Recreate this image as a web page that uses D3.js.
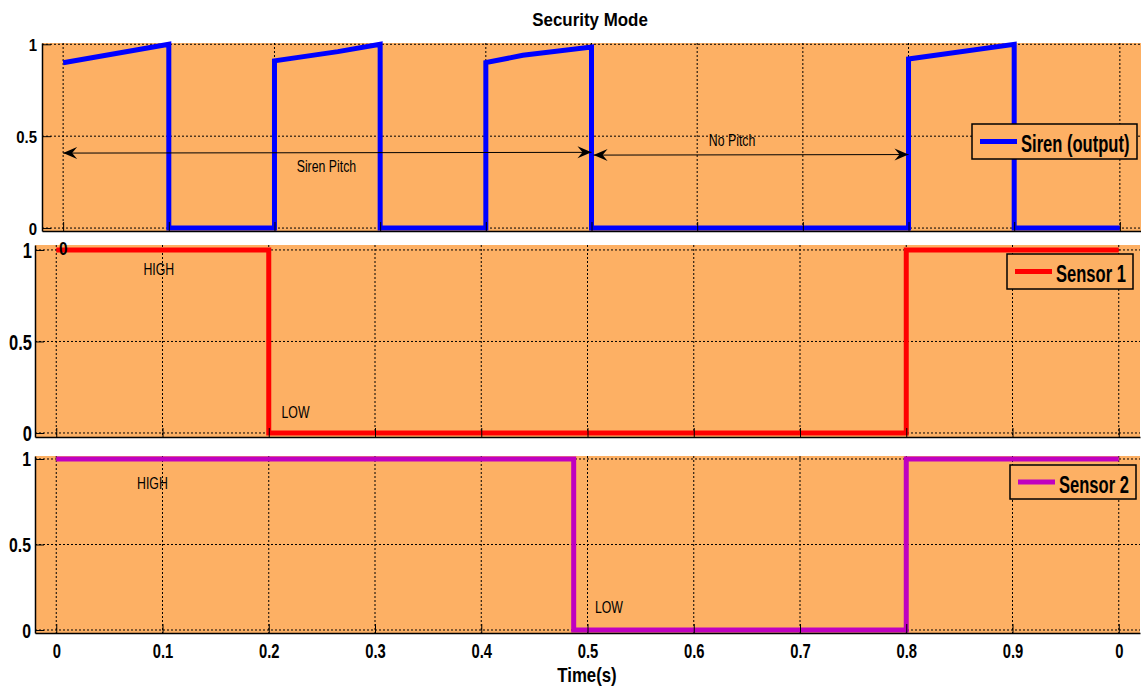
<!DOCTYPE html>
<html>
<head>
<meta charset="utf-8">
<script src="https://cdn.jsdelivr.net/npm/d3@7"></script>
<style>
  body { margin: 0; background: #fff; }
  svg { display: block; font-family: "Liberation Sans", Arial, sans-serif; }
</style>
</head>
<body>
<svg id="chart" width="1141" height="689"></svg>
<script>
// ---- data ----
const timeTicks = [0, 0.1, 0.2, 0.3, 0.4, 0.5, 0.6, 0.7, 0.8, 0.9, 1.0];
const timeTickLabels = ['0', '0.1', '0.2', '0.3', '0.4', '0.5', '0.6', '0.7', '0.8', '0.9', '0'];
const levelTicks = [0, 0.5, 1];
const levelTickLabels = ['0', '0.5', '1'];

const sirenTime  = [0, 0.1, 0.1, 0.2, 0.2, 0.26, 0.3, 0.3, 0.4, 0.4, 0.435, 0.5, 0.5, 0.8, 0.8, 0.9, 0.9, 1.0];
const sirenLevel = [0.9, 1.0, 0, 0, 0.91, 0.96, 1.0, 0, 0, 0.9, 0.94, 0.985, 0, 0, 0.92, 1.0, 0, 0];

const sensor1Time  = [0, 0.2, 0.2, 0.8, 0.8, 1.0];
const sensor1Level = [1, 1, 0, 0, 1, 1];

const sensor2Time  = [0, 0.487, 0.487, 0.8, 0.8, 1.0];
const sensor2Level = [1, 1, 0, 0, 1, 1];

// annotations (data units)
const sirenArrows = [
  { t0: 0, t1: 0.5, v0: 0.408, v1: 0.412 },
  { t0: 0.502, t1: 0.8, v0: 0.397, v1: 0.40 }
];
const sirenNotes = [
  { t: 0.221, v: 0.305, text: 'Siren Pitch' },
  { t: 0.611, v: 0.446, text: 'No Pitch' }
];
const sensor1Notes = [
  { t: 0.082, v: 0.863, text: 'HIGH' },
  { t: 0.212, v: 0.08, text: 'LOW' }
];
const sensor2Notes = [
  { t: 0.076, v: 0.825, text: 'HIGH' },
  { t: 0.507, v: 0.10, text: 'LOW' }
];

// ---- layout ----
const svg = d3.select('#chart');
const BG = '#fdb064';

const panels = [
  { name: 'Siren (output)', color: '#0000ff', t: sirenTime, v: sirenLevel, notes: sirenNotes,
    left: 42, right: 1141, top: 43, bottom: 231, yDom: [-0.016, 1.007],
    yFont: 17, ySx: 0.88, yPad: 5, legend: { x: 972, y: 124, w: 165, h: 35 } },
  { name: 'Sensor 1', color: '#ff0000', t: sensor1Time, v: sensor1Level, notes: sensor1Notes,
    left: 35, right: 1140, top: 245, bottom: 437, yDom: [-0.022, 1.027],
    yFont: 22, ySx: 0.75, yPad: 3, legend: { x: 1007, y: 254, w: 126, h: 35 } },
  { name: 'Sensor 2', color: '#c000c0', t: sensor2Time, v: sensor2Level, notes: sensor2Notes,
    left: 35, right: 1140, top: 456, bottom: 633, yDom: [-0.0175, 1.0175],
    yFont: 20, ySx: 0.79, yPad: 4, legend: { x: 1010, y: 465, w: 126, h: 34 } }
];

function label(sel, x, y, s, size, weight, sx, anchor) {
  return sel.append('text')
    .attr('transform', `translate(${x},${y}) scale(${sx},1)`)
    .attr('font-size', size)
    .attr('font-weight', weight)
    .attr('text-anchor', anchor || 'start')
    .attr('fill', '#000')
    .text(s);
}

// arrow head marker (MATLAB-like notched head)
svg.append('defs').append('marker')
  .attr('id', 'head')
  .attr('viewBox', '-15 -7 16 14')
  .attr('refX', 0).attr('refY', 0)
  .attr('markerWidth', 16).attr('markerHeight', 14)
  .attr('markerUnits', 'userSpaceOnUse')
  .attr('orient', 'auto-start-reverse')
  .append('path')
  .attr('d', 'M0,0 L-14,-6 L-9,0 L-14,6 Z')
  .attr('fill', '#000');

const scales = [];

panels.forEach((p, i) => {
  const x = d3.scaleLinear().domain([-0.02, 1.02]).range([p.left, p.right]);
  const y = d3.scaleLinear().domain(p.yDom).range([p.bottom, p.top]);
  scales.push({ x, y });
  const g = svg.append('g');

  g.append('rect')
    .attr('x', p.left).attr('y', p.top)
    .attr('width', p.right - p.left).attr('height', p.bottom - p.top)
    .attr('fill', BG);

  // dotted grid
  g.append('g').selectAll('line').data(timeTicks).join('line')
    .attr('x1', d => x(d)).attr('x2', d => x(d))
    .attr('y1', p.top).attr('y2', p.bottom)
    .attr('stroke', '#000').attr('stroke-width', 1).attr('stroke-dasharray', '2,2');
  g.append('g').selectAll('line').data(levelTicks).join('line')
    .attr('x1', p.left).attr('x2', p.right)
    .attr('y1', d => y(d)).attr('y2', d => y(d))
    .attr('stroke', '#000').attr('stroke-width', 1).attr('stroke-dasharray', '2,2');

  // signal
  const pts = p.t.map((t, k) => [t, p.v[k]]);
  g.append('path')
    .datum(pts)
    .attr('d', d3.line().x(d => x(d[0])).y(d => y(d[1])))
    .attr('fill', 'none')
    .attr('stroke', p.color)
    .attr('stroke-width', 5)
    .attr('stroke-linejoin', 'miter');

  // axes
  const yAxis = g.append('g')
    .attr('transform', `translate(${p.left},0)`)
    .call(d3.axisLeft(y).tickValues(levelTicks)
      .tickFormat((d, k) => levelTickLabels[k])
      .tickSizeInner(-9).tickSizeOuter(0));
  yAxis.select('.domain').attr('stroke', '#000').attr('stroke-width', 1.5);
  yAxis.selectAll('.tick line').attr('stroke', '#000');
  yAxis.selectAll('text')
    .attr('font-size', p.yFont).attr('font-weight', 'bold')
    .attr('font-family', '"Liberation Sans", Arial, sans-serif')
    .attr('fill', '#000')
    .attr('x', -p.yPad / p.ySx).attr('dy', '0.35em')
    .attr('transform', `scale(${p.ySx},1)`);

  const xAxis = g.append('g')
    .attr('transform', `translate(0,${p.bottom})`)
    .call(d3.axisBottom(x).tickValues(timeTicks)
      .tickFormat((d, k) => timeTickLabels[k])
      .tickSizeInner(-9).tickSizeOuter(0));
  xAxis.select('.domain').attr('stroke', '#000').attr('stroke-width', 1.5);
  xAxis.selectAll('.tick line').attr('stroke', '#000');
  if (i === panels.length - 1) {
    xAxis.selectAll('text')
      .attr('font-size', 20).attr('font-weight', 'bold')
      .attr('font-family', '"Liberation Sans", Arial, sans-serif')
      .attr('fill', '#000')
      .attr('y', 25).attr('dy', 0)
      .attr('transform', 'scale(0.74,1)');
  } else {
    xAxis.selectAll('text').remove();
  }

  // notes
  p.notes.forEach(n => label(g, x(n.t), y(n.v), n.text, 16, 'normal', 0.77));

  if (i === 0) {
    g.append('g').selectAll('line').data(sirenArrows).join('line')
      .attr('x1', d => x(d.t0)).attr('x2', d => x(d.t1))
      .attr('y1', d => y(d.v0)).attr('y2', d => y(d.v1))
      .attr('stroke', '#000').attr('stroke-width', 1)
      .attr('marker-start', 'url(#head)').attr('marker-end', 'url(#head)');
  }

  // legend
  const L = p.legend;
  g.append('rect')
    .attr('x', L.x).attr('y', L.y).attr('width', L.w).attr('height', L.h)
    .attr('fill', BG).attr('stroke', '#000').attr('stroke-width', 1.5);
  g.append('line')
    .attr('x1', L.x + 8).attr('x2', L.x + 45)
    .attr('y1', L.y + L.h / 2).attr('y2', L.y + L.h / 2)
    .attr('stroke', p.color).attr('stroke-width', 5);
  label(g, L.x + 49, L.y + 27.5, p.name, 24, 'bold', 0.69);
});

// title and x label
label(svg, 590, 26, 'Security Mode', 18, 'bold', 0.94, 'middle');
label(svg, 587, 682, 'Time(s)', 20, 'bold', 0.84, 'middle');

// stray first tick label of the top axes, left visible over the second panel
label(svg, scales[0].x(timeTicks[0]), 255, timeTickLabels[0], 18, 'bold', 0.85, 'middle');
</script>
</body>
</html>
